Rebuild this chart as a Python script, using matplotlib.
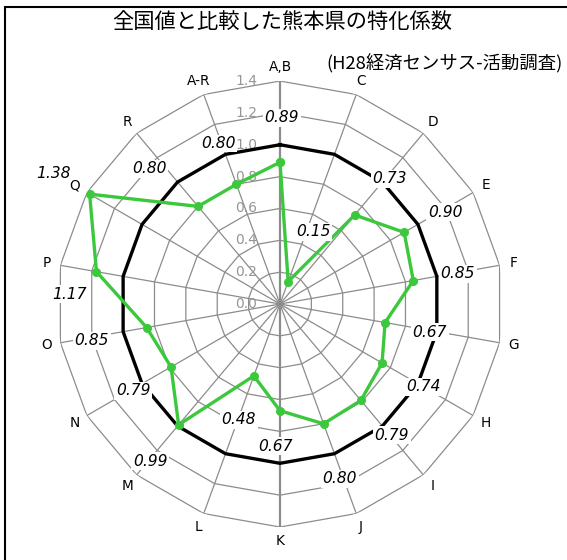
import numpy as np
import matplotlib
matplotlib.use("Agg")
from matplotlib import pyplot as plt
from matplotlib import transforms
from matplotlib.patches import Rectangle

plt.rcParams["font.family"] = ["DejaVu Sans", "Noto Sans CJK JP"]

# industry categories, clockwise from the top
categories = ["A,B", "C", "D", "E", "F", "G", "H", "I", "J",
              "K", "L", "M", "N", "O", "P", "Q", "R", "A-R"]
# specialisation coefficient of Kumamoto vs. national value
values = [0.89, 0.15, 0.73, 0.90, 0.85, 0.67, 0.74, 0.79, 0.80,
          0.67, 0.48, 0.99, 0.79, 0.85, 1.17, 1.38, 0.80, 0.80]
# national reference level
baseline = [1.0] * len(categories)
levels = [0.0, 0.2, 0.4, 0.6, 0.8, 1.0, 1.2, 1.4]

title = "全国値と比較した熊本県の特化係数"
subtitle = "(H28経済センサス-活動調査)"

# where each value label sits (angle in degrees, radius)
label_pos = [(0.6, 1.17), (24.6, 0.50), (41.3, 1.045), (60.9, 1.186),
             (80.4, 1.133), (100.6, 0.958), (120.1, 1.038), (139.5, 1.082),
             (161.1, 1.161), (182.0, 0.892), (199.5, 0.772), (219.6, 1.28),
             (239.4, 1.072), (258.9, 1.203), (272.7, 1.32), (300.0, 1.645),
             (315.9, 1.181), (339.0, 1.08)]

grid_col = "#8c8c8c"
green = "#3cc83c"

fig = plt.figure(figsize=(5.67, 5.60), dpi=100)
ax = fig.add_axes([0.1005, 0.0589, 0.7866, 0.7964], projection="polar")
ax.set_theta_zero_location("N")
ax.set_theta_direction(-1)
ax.set_ylim(0, levels[-1])
ax.axis("off")

n = len(categories)
theta = np.arange(n) * 2 * np.pi / n
theta_c = np.append(theta, theta[0])

# polygon grid
for lv in levels[1:]:
    ax.plot(theta_c, [lv] * (n + 1), color=grid_col, lw=0.9, zorder=1)
for i, t in enumerate(theta):
    lw = 1.6 if i in (0, n // 2) else 0.9
    ax.plot([t, t], [0, levels[-1]], color=grid_col, lw=lw, zorder=1)

# radial tick labels next to the value axis
tick_tr = transforms.offset_copy(ax.transData, fig=fig, x=-23, y=0, units="dots")
for lv in levels:
    ax.text(0, lv, "%.1f" % lv, transform=tick_tr, ha="right", va="center",
            fontsize=10, color="#969696", zorder=2)

# series
ax.plot(theta_c, baseline + baseline[:1], color="black", lw=2.4, zorder=3)
ax.plot(theta_c, values + values[:1], color=green, lw=2.4, marker="o",
        ms=5.5, zorder=4)

for (ang, r), v in zip(label_pos, values):
    ax.text(np.deg2rad(ang), r, "%.2f" % v, ha="center", va="center",
            fontsize=11.2, style="italic", color="black", zorder=5,
            bbox=dict(facecolor="white", edgecolor="none", pad=1.0))

for t, c in zip(theta, categories):
    ax.text(t, 1.49, c, ha="center", va="center", fontsize=9.8, color="black")

fig.text(0.497, 0.961, title, ha="center", va="center", fontsize=15.3,
         family=["Noto Sans CJK JP", "DejaVu Sans"])
fig.text(0.993, 0.887, subtitle, ha="right", va="center", fontsize=13.2,
         family=["Noto Sans CJK JP", "DejaVu Sans"])

# chart frame
fig.add_artist(Rectangle((5 / 567, -0.1), 1.2, 1.1 - 7 / 560,
                         transform=fig.transFigure, fill=False,
                         edgecolor="black", lw=1.5))

fig.savefig("out.png", dpi=100)
